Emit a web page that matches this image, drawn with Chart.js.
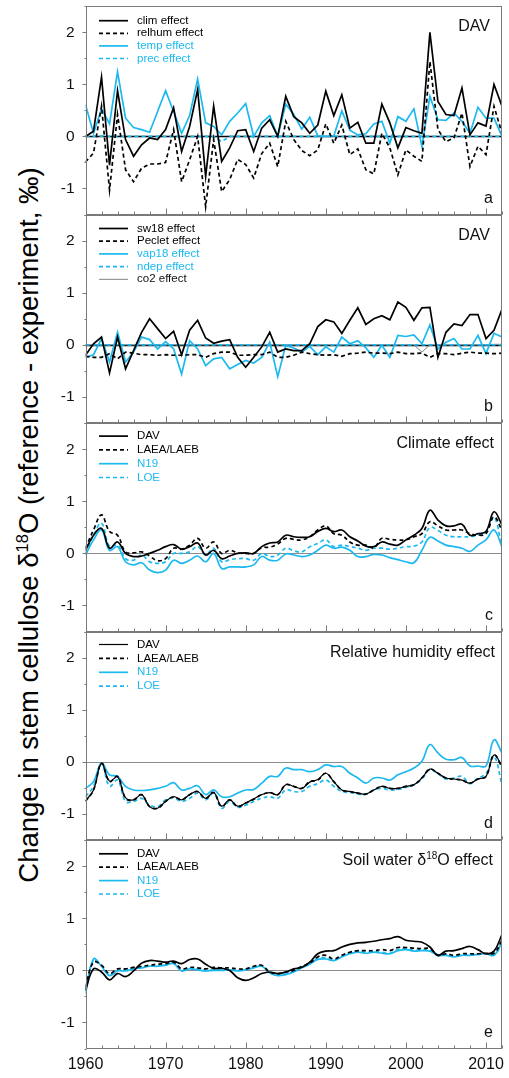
<!DOCTYPE html>
<html>
<head>
  <meta charset="utf-8">
  <title>Stem cellulose d18O effects</title>
  <style>
    body {
      margin: 0;
      background: #fff;
      font-family: "Liberation Sans", Arial, sans-serif;
    }
    .wrap {
      position: relative;
      width: 509px;
      height: 1078px;
      overflow: hidden;
    }
    canvas {
      position: absolute;
      left: 0;
    }
    #ylabel {
      position: absolute;
      left: 29px;
      top: 525px;
      transform: translate(-50%, -50%) rotate(-90deg);
      white-space: nowrap;
      font-size: 27.5px;
      line-height: 1;
      color: #000;
    }
    #ylabel sup {
      font-size: 0.6em;
      vertical-align: 0.6em;
      line-height: 0;
    }
  </style>
  <script src="https://cdn.jsdelivr.net/npm/chart.js"></script>
</head>
<body>
  <div class="wrap" id="wrap">
    <div id="ylabel">Change in stem cellulose &delta;<sup>18</sup>O (reference - experiment, &permil;)</div>
  </div>

  <script>
    // years 1960..2012
    var years = [1960, 1961, 1962, 1963, 1964, 1965, 1966, 1967, 1968, 1969,
                 1970, 1971, 1972, 1973, 1974, 1975, 1976, 1977, 1978, 1979,
                 1980, 1981, 1982, 1983, 1984, 1985, 1986, 1987, 1988, 1989,
                 1990, 1991, 1992, 1993, 1994, 1995, 1996, 1997, 1998, 1999,
                 2000, 2001, 2002, 2003, 2004, 2005, 2006, 2007, 2008, 2009,
                 2010, 2011, 2012];

    // panel a - DAV climate drivers
    var climA = [0.0, 0.1, 1.14, -0.55, 0.88, -0.06, -0.38, -0.16, -0.03, -0.06,
                 0.13, 0.55, -0.29, 0.19, 0.9, -0.77, 0.58, -0.48, -0.22, 0.11,
                 0.13, -0.29, 0.16, 0.32, 0.0, 0.77, 0.38, 0.26, 0.06, 0.22,
                 0.87, 0.4, 0.8, 0.16, 0.27, -0.13, -0.13, 0.62, 0.26, -0.22,
                 0.17, 0.11, 0.06, 2.0, 0.67, 0.42, 0.4, 0.93, 0.03, 0.26,
                 0.2, 1.0, 0.58];
    var relhumA = [-0.49, -0.32, 0.58, -1.03, 0.42, -0.64, -0.87, -0.61, -0.53, -0.53,
                   -0.5, 0.13, -0.87, -0.45, 0.0, -1.35, -0.06, -1.06, -0.83, -0.44,
                   -0.54, -0.8, -0.33, -0.13, -0.58, 0.29, -0.06, -0.27, -0.37, -0.26,
                   0.24, -0.13, 0.22, -0.35, -0.24, -0.64, -0.72, 0.06, -0.22, -0.74,
                   -0.26, -0.38, -0.48, 1.44, 0.13, -0.1, -0.03, 0.45, -0.58, -0.19,
                   -0.35, 0.58, 0.06];
    var tempA = [0.61, 0.06, 0.53, 0.24, 1.24, 0.35, 0.17, 0.13, 0.08, 0.48,
                 0.88, 0.48, 0.06, 0.4, 1.1, 0.26, 0.19, 0.03, 0.29, 0.45,
                 0.63, 0.0, 0.26, 0.4, 0.0, 0.62, 0.42, 0.14, 0.37, 0.01,
                 0.0, 0.01, 0.49, 0.12, 0.03, 0.05, 0.24, 0.29, -0.13, 0.38,
                 0.29, 0.53, -0.19, 0.77, 0.32, 0.31, 0.45, 0.29, 0.06, 0.56,
                 0.35, 0.35, 0.0];
    var precA = [0.0, 0.0, 0.01, 0.0, 0.0, 0.0, 0.0, 0.0, 0.0, 0.0,
                 0.0, 0.0, 0.0, 0.0, 0.0, 0.0, 0.0, -0.1, 0.0, 0.0,
                 0.0, 0.0, 0.0, 0.0, 0.0, 0.0, 0.0, 0.0, 0.0, 0.0,
                 0.0, 0.0, 0.0, 0.0, 0.0, 0.0, 0.0, 0.0, 0.0, 0.0,
                 0.0, 0.0, 0.0, 0.0, 0.0, 0.0, 0.0, 0.0, 0.0, 0.0,
                 0.0, 0.0, 0.0];

    // panel b - DAV other drivers
    var sw18B = [-0.2, 0.02, 0.15, -0.54, 0.15, -0.46, -0.11, 0.24, 0.5, 0.31,
                 0.12, 0.26, -0.19, 0.28, 0.47, 0.13, 0.03, 0.07, 0.1, -0.24,
                 -0.43, -0.24, -0.04, 0.24, -0.14, -0.08, -0.11, -0.11, 0.02, 0.35,
                 0.48, 0.44, 0.22, 0.47, 0.71, 0.39, 0.5, 0.56, 0.48, 0.82,
                 0.72, 0.47, 0.71, 0.72, -0.24, 0.24, 0.4, 0.37, 0.58, 0.58,
                 0.12, 0.28, 0.68];
    var pecletB = [-0.22, -0.24, -0.24, -0.17, -0.27, -0.14, -0.16, -0.19, -0.19, -0.2,
                   -0.19, -0.2, -0.2, -0.19, -0.19, -0.24, -0.17, -0.14, -0.14, -0.2,
                   -0.2, -0.19, -0.19, -0.14, -0.24, -0.24, -0.2, -0.14, -0.17, -0.19,
                   -0.2, -0.19, -0.22, -0.17, -0.16, -0.14, -0.16, -0.16, -0.17, -0.14,
                   -0.17, -0.17, -0.16, -0.24, -0.17, -0.17, -0.19, -0.16, -0.14, -0.16,
                   -0.16, -0.17, -0.16];
    var vap18B = [-0.24, -0.19, 0.12, -0.33, 0.24, -0.33, -0.14, 0.15, 0.1, -0.08,
                  0.06, -0.08, -0.56, 0.08, -0.08, -0.4, -0.27, -0.24, -0.46, -0.38,
                  -0.3, -0.35, -0.24, 0.05, -0.61, -0.01, -0.06, -0.14, -0.03, -0.19,
                  -0.04, -0.14, 0.15, 0.02, 0.08, -0.06, -0.24, -0.01, -0.24, 0.18,
                  0.16, 0.19, 0.02, 0.38, -0.08, 0.05, 0.12, -0.08, -0.08, 0.18,
                  -0.17, 0.22, 0.15];
    var ndepB = [0.0, 0.0, 0.0, 0.0, 0.0, 0.0, 0.0, 0.0, 0.0, 0.0,
                 0.0, 0.0, 0.0, 0.0, 0.0, 0.0, 0.0, 0.0, 0.0, 0.0,
                 0.0, 0.0, 0.0, 0.0, 0.0, 0.0, 0.0, 0.0, 0.0, 0.0,
                 0.0, 0.0, 0.0, 0.0, 0.0, 0.0, 0.0, 0.0, 0.0, 0.0,
                 0.0, 0.0, 0.0, 0.0, 0.0, 0.0, 0.0, 0.0, 0.0, 0.0,
                 0.0, 0.0, 0.0];
    var co2B = [0.0, 0.0, 0.0, 0.0, 0.0, 0.0, 0.0, 0.0, 0.0, 0.0,
                0.0, 0.0, 0.0, 0.0, 0.0, 0.0, 0.0, 0.0, 0.0, 0.0,
                0.0, 0.0, 0.0, 0.0, 0.0, 0.0, 0.0, 0.0, 0.0, 0.0,
                0.0, 0.0, 0.0, 0.0, 0.0, 0.0, 0.0, 0.0, 0.0, 0.0,
                0.0, 0.0, -0.14, 0.0, 0.0, 0.0, 0.0, 0.0, 0.0, 0.0,
                0.0, 0.01, 0.01];

    // panel c - climate effect per site
    var davC = [0.06, 0.35, 0.48, 0.1, 0.22, 0.0, -0.06, -0.05, 0.0, 0.06,
                0.13, 0.17, 0.08, 0.13, 0.2, -0.03, 0.06, -0.1, -0.05, 0.0,
                0.01, 0.0, 0.13, 0.2, 0.22, 0.35, 0.32, 0.31, 0.32, 0.42,
                0.48, 0.42, 0.45, 0.32, 0.24, 0.14, 0.13, 0.22, 0.18, 0.16,
                0.26, 0.35, 0.48, 0.83, 0.64, 0.53, 0.53, 0.56, 0.35, 0.38,
                0.42, 0.8, 0.55];
    var laeaC = [0.1, 0.45, 0.74, 0.42, 0.35, 0.03, 0.01, 0.03, -0.05, -0.14,
                 -0.1, 0.1, 0.08, 0.16, 0.29, 0.1, 0.22, 0.0, 0.06, 0.01,
                 0.0, 0.0, 0.11, 0.12, 0.18, 0.29, 0.27, 0.26, 0.32, 0.45,
                 0.53, 0.38, 0.35, 0.22, 0.16, 0.16, 0.11, 0.29, 0.27, 0.26,
                 0.26, 0.32, 0.38, 0.61, 0.53, 0.45, 0.45, 0.45, 0.38, 0.35,
                 0.38, 0.7, 0.45];
    var n19C = [-0.03, 0.26, 0.45, 0.06, 0.13, -0.16, -0.22, -0.18, -0.32, -0.37,
                -0.32, -0.13, -0.19, -0.13, -0.05, -0.16, 0.0, -0.29, -0.26, -0.26,
                -0.26, -0.22, -0.06, -0.13, -0.13, -0.01, -0.03, -0.06, -0.03, 0.06,
                0.16, 0.1, 0.12, 0.06, -0.06, -0.06, -0.02, -0.03, -0.08, -0.12,
                -0.16, -0.18, 0.06, 0.31, 0.24, 0.16, 0.13, 0.1, 0.04, 0.16,
                0.26, 0.45, 0.13];
    var loeC = [0.0, 0.35, 0.58, 0.13, 0.16, -0.1, -0.13, -0.03, -0.16, -0.19,
                -0.16, 0.0, 0.0, 0.03, 0.13, -0.03, 0.1, -0.16, -0.12, -0.1,
                -0.1, -0.13, 0.0, -0.06, -0.03, 0.1, 0.05, 0.03, 0.13, 0.19,
                0.26, 0.13, 0.16, 0.13, 0.1, 0.06, 0.1, 0.1, 0.08, 0.1,
                0.13, 0.14, 0.22, 0.5, 0.44, 0.35, 0.32, 0.32, 0.32, 0.35,
                0.42, 0.7, 0.1];

    // panel d - relative humidity effect per site
    var davD = [-0.75, -0.54, -0.03, -0.37, -0.29, -0.69, -0.73, -0.63, -0.86, -0.89,
                -0.76, -0.67, -0.73, -0.63, -0.57, -0.7, -0.59, -0.85, -0.73, -0.85,
                -0.79, -0.71, -0.63, -0.59, -0.63, -0.44, -0.47, -0.51, -0.39, -0.34,
                -0.22, -0.38, -0.54, -0.57, -0.6, -0.62, -0.54, -0.47, -0.51, -0.51,
                -0.47, -0.44, -0.31, -0.14, -0.22, -0.31, -0.33, -0.35, -0.41, -0.33,
                -0.28, 0.13, -0.08];
    var laeaD = [-0.76, -0.54, -0.03, -0.38, -0.28, -0.7, -0.73, -0.63, -0.86, -0.89,
                 -0.76, -0.67, -0.73, -0.63, -0.57, -0.7, -0.59, -0.86, -0.73, -0.86,
                 -0.79, -0.72, -0.63, -0.59, -0.63, -0.44, -0.47, -0.51, -0.38, -0.35,
                 -0.22, -0.38, -0.54, -0.57, -0.6, -0.62, -0.54, -0.47, -0.51, -0.51,
                 -0.47, -0.44, -0.31, -0.14, -0.22, -0.31, -0.33, -0.35, -0.41, -0.33,
                 -0.28, 0.13, -0.1];
    var n19D = [-0.51, -0.38, -0.03, -0.25, -0.28, -0.47, -0.54, -0.55, -0.54, -0.51,
                -0.47, -0.4, -0.54, -0.51, -0.46, -0.63, -0.54, -0.67, -0.67, -0.6,
                -0.54, -0.53, -0.41, -0.28, -0.28, -0.12, -0.15, -0.15, -0.19, -0.15,
                -0.06, -0.09, -0.09, -0.22, -0.31, -0.41, -0.31, -0.31, -0.35, -0.25,
                -0.19, -0.12, 0.01, 0.33, 0.17, 0.05, 0.04, 0.08, -0.08, -0.08,
                -0.08, 0.42, 0.17];
    var loeD = [-0.67, -0.47, -0.03, -0.47, -0.35, -0.76, -0.76, -0.7, -0.83, -0.86,
                -0.73, -0.7, -0.76, -0.7, -0.6, -0.73, -0.6, -0.89, -0.76, -0.87,
                -0.83, -0.76, -0.7, -0.67, -0.7, -0.54, -0.57, -0.57, -0.47, -0.42,
                -0.35, -0.47, -0.57, -0.59, -0.62, -0.62, -0.54, -0.51, -0.54, -0.53,
                -0.49, -0.44, -0.33, -0.15, -0.23, -0.33, -0.31, -0.28, -0.42, -0.31,
                -0.23, 0.1, -0.44];

    // panel e - soil water d18O effect per site
    var davE = [-0.38, 0.03, -0.03, -0.18, -0.06, -0.12, -0.01, 0.14, 0.19, 0.18,
                0.16, 0.18, 0.13, 0.21, 0.22, 0.12, 0.04, 0.04, 0.0, -0.14,
                -0.19, -0.14, -0.06, -0.03, -0.06, -0.03, 0.03, 0.06, 0.16, 0.32,
                0.37, 0.38, 0.45, 0.5, 0.53, 0.54, 0.56, 0.59, 0.61, 0.65,
                0.58, 0.56, 0.54, 0.45, 0.29, 0.37, 0.38, 0.42, 0.46, 0.4,
                0.32, 0.37, 0.69];
    var laeaE = [-0.32, 0.16, 0.1, -0.06, 0.03, 0.03, 0.06, 0.08, 0.1, 0.12,
                 0.13, 0.16, 0.03, 0.06, 0.05, 0.03, 0.06, 0.05, 0.05, 0.03,
                 0.03, 0.08, 0.1, -0.03, -0.06, -0.03, 0.0, 0.08, 0.14, 0.26,
                 0.29, 0.22, 0.29, 0.35, 0.38, 0.38, 0.38, 0.4, 0.38, 0.44,
                 0.44, 0.43, 0.42, 0.42, 0.29, 0.32, 0.29, 0.32, 0.32, 0.32,
                 0.33, 0.33, 0.58];
    var n19E = [-0.45, 0.22, 0.08, -0.1, -0.01, -0.01, 0.03, 0.05, 0.08, 0.08,
                0.1, 0.13, -0.01, 0.03, 0.01, -0.01, 0.0, 0.0, 0.01, -0.01,
                0.01, 0.05, 0.08, -0.05, -0.1, -0.08, -0.03, 0.05, 0.12, 0.21,
                0.22, 0.19, 0.26, 0.32, 0.35, 0.33, 0.35, 0.33, 0.32, 0.38,
                0.4, 0.37, 0.38, 0.37, 0.29, 0.29, 0.26, 0.29, 0.29, 0.31,
                0.32, 0.29, 0.54];
    var loeE = [-0.4, 0.2, 0.09, -0.08, 0.0, 0.01, 0.04, 0.06, 0.09, 0.1,
                0.11, 0.14, 0.0, 0.04, 0.02, 0.0, 0.01, 0.02, 0.02, 0.0,
                0.02, 0.06, 0.09, -0.04, -0.09, -0.07, -0.02, 0.06, 0.13, 0.23,
                0.24, 0.2, 0.27, 0.34, 0.36, 0.35, 0.36, 0.35, 0.33, 0.4,
                0.42, 0.39, 0.4, 0.39, 0.3, 0.3, 0.27, 0.3, 0.3, 0.31,
                0.32, 0.3, 0.5];

    var CYAN = '#1cb9ef';
    var BLACK = '#000000';
    var FONT = '"Liberation Sans", Arial, sans-serif';

    Chart.defaults.font.family = FONT;
    Chart.defaults.color = '#111';

    function line(label, data, color, dashed, textColor, width) {
      return {
        label: label,
        data: data,
        borderColor: color,
        borderWidth: width || 1.7,
        borderDash: dashed ? [4, 3] : [],
        pointRadius: 0,
        fill: false,
        textColor: textColor || color
      };
    }

    var panels = [
      {
        title: [['DAV', false]], titleRight: 12, letter: 'a', smooth: false,
        zeroColor: '#000', zeroWidth: 1.5, legendStep: 12.6, legendTop: 14.4,
        datasets: [
          line('clim effect', climA, BLACK, false),
          line('relhum effect', relhumA, BLACK, true),
          line('temp effect', tempA, CYAN, false),
          line('prec effect', precA, CYAN, true)
        ]
      },
      {
        title: [['DAV', false]], titleRight: 12, letter: 'b', smooth: false,
        zeroColor: '#000', zeroWidth: 1.5, legendStep: 12.7, legendTop: 14,
        datasets: [
          line('sw18 effect', sw18B, BLACK, false),
          line('Peclet effect', pecletB, BLACK, true),
          line('vap18 effect', vap18B, CYAN, false),
          line('ndep effect', ndepB, CYAN, true),
          line('co2 effect', co2B, '#808080', false, '#111', 1)
        ]
      },
      {
        title: [['Climate effect', false]], titleRight: 8, letter: 'c', smooth: true,
        zeroColor: '#8a8a8a', zeroWidth: 1, legendStep: 13.8, legendTop: 12.8,
        datasets: [
          line('DAV', davC, BLACK, false),
          line('LAEA/LAEB', laeaC, BLACK, true),
          line('N19', n19C, CYAN, false),
          line('LOE', loeC, CYAN, true)
        ]
      },
      {
        title: [['Relative humidity effect', false]], titleRight: 7, letter: 'd', smooth: true,
        zeroColor: '#8a8a8a', zeroWidth: 1, legendStep: 13.9, legendTop: 13,
        datasets: [
          line('DAV', davD, BLACK, false, BLACK, 1.2),
          line('LAEA/LAEB', laeaD, BLACK, true),
          line('N19', n19D, CYAN, false),
          line('LOE', loeD, CYAN, true)
        ]
      },
      {
        title: [['Soil water \u03b4', false], ['18', true], ['O effect', false]], titleRight: 9, letter: 'e', smooth: true,
        zeroColor: '#8a8a8a', zeroWidth: 1, legendStep: 13.4, legendTop: 13.5,
        datasets: [
          line('DAV', davE, BLACK, false),
          line('LAEA/LAEB', laeaE, BLACK, true),
          line('N19', n19E, CYAN, false),
          line('LOE', loeE, CYAN, true)
        ]
      }
    ];

    // frame, ticks, zero line, legend and labels inside each panel
    var decoPlugin = {
      id: 'deco',
      beforeDatasetsDraw: function(chart, args, opts) {
        var ctx = chart.ctx, a = chart.chartArea;
        var y0 = Math.round(chart.scales.y.getPixelForValue(0)) + 0.5;
        ctx.save();
        ctx.strokeStyle = opts.zeroColor;
        ctx.lineWidth = opts.zeroWidth;
        ctx.beginPath();
        ctx.moveTo(a.left, y0);
        ctx.lineTo(a.right, y0);
        ctx.stroke();
        ctx.restore();
      },
      afterDraw: function(chart, args, opts) {
        var ctx = chart.ctx, a = chart.chartArea;
        var xs = chart.scales.x, ys = chart.scales.y;
        var L = Math.round(a.left) + 0.5, R = Math.round(a.right) - 0.5;
        var T = Math.round(a.top) + 0.5, B = Math.round(a.bottom) - 0.5;
        ctx.save();
        ctx.strokeStyle = '#7a7a7a';
        ctx.lineWidth = 1;
        ctx.strokeRect(L, T, R - L, B - T);

        ctx.beginPath();
        for (var yr = 1960; yr <= 2012; yr += 2) {
          var px = Math.round(xs.getPixelForValue(yr)) + 0.5;
          var len = yr % 10 === 0 ? 6 : 3;
          ctx.moveTo(px, B);
          ctx.lineTo(px, B - len);
        }
        for (var v = -1.5; v <= 2.5; v += 0.5) {
          var py = Math.round(ys.getPixelForValue(v)) + 0.5;
          var tl = Number.isInteger(v) ? 4 : 2;
          ctx.moveTo(L, py);
          ctx.lineTo(L - tl, py);
        }
        ctx.stroke();

        // legend
        var ry = a.top + opts.legendTop;
        ctx.font = '11.5px ' + FONT;
        ctx.textBaseline = 'middle';
        ctx.textAlign = 'left';
        chart.data.datasets.forEach(function(ds) {
          ctx.strokeStyle = ds.borderColor;
          ctx.lineWidth = ds.borderWidth;
          ctx.setLineDash(ds.borderDash);
          ctx.beginPath();
          ctx.moveTo(99, ry);
          ctx.lineTo(128, ry);
          ctx.stroke();
          ctx.setLineDash([]);
          ctx.fillStyle = ds.textColor;
          ctx.fillText(ds.label, 137, ry);
          ry += opts.legendStep;
        });

        // panel title, right aligned
        ctx.textBaseline = 'alphabetic';
        ctx.fillStyle = '#111';
        var big = '16px ' + FONT, small = '10px ' + FONT;
        var total = 0;
        opts.title.forEach(function(p) {
          ctx.font = p[1] ? small : big;
          total += ctx.measureText(p[0]).width;
        });
        var tx = a.right - opts.titleRight - total, tyb = a.top + 25;
        opts.title.forEach(function(p) {
          ctx.font = p[1] ? small : big;
          ctx.fillText(p[0], tx, p[1] ? tyb - 6 : tyb);
          tx += ctx.measureText(p[0]).width;
        });

        // panel letter
        ctx.font = big;
        ctx.textAlign = 'right';
        ctx.fillText(opts.letter, a.right - 9, a.bottom - 12);
        ctx.restore();
      }
    };

    var LEFT = 85.5, RIGHT_PAD = 7, PANEL_H = 208.5;
    var wrap = document.getElementById('wrap');

    panels.forEach(function(p, i) {
      var top = 6 + i * PANEL_H;
      var last = i === panels.length - 1;
      var cTop = Math.floor(top) - 20;
      var cH = last ? 262 : 250;
      var xH = last ? 30 : 0;
      var padTop = top - cTop;
      var padBottom = cH - padTop - PANEL_H - xH;

      var canvas = document.createElement('canvas');
      canvas.width = 509;
      canvas.height = cH;
      canvas.style.top = cTop + 'px';
      wrap.appendChild(canvas);

      p.datasets.forEach(function(ds) { ds.tension = p.smooth ? 0.4 : 0; });

      new Chart(canvas.getContext('2d'), {
        type: 'line',
        data: { labels: years, datasets: p.datasets },
        options: {
          responsive: false,
          animation: false,
          events: [],
          layout: { padding: { top: padTop, bottom: padBottom, left: 0, right: RIGHT_PAD } },
          plugins: {
            legend: { display: false },
            tooltip: { enabled: false },
            deco: {
              title: p.title, titleRight: p.titleRight, letter: p.letter,
              zeroColor: p.zeroColor, zeroWidth: p.zeroWidth,
              legendStep: p.legendStep, legendTop: p.legendTop
            }
          },
          scales: {
            x: {
              type: 'linear',
              min: 1960,
              max: 2012,
              grid: { display: false, drawTicks: false },
              border: { display: false },
              ticks: {
                display: last,
                stepSize: 2,
                autoSkip: false,
                maxRotation: 0,
                padding: 6,
                color: '#111',
                font: { size: 16 },
                callback: function(v) { return v % 10 === 0 ? String(v) : ''; }
              },
              afterFit: function(s) { s.height = xH; }
            },
            y: {
              min: -1.5,
              max: 2.5,
              grid: { display: false, drawTicks: false },
              border: { display: false },
              ticks: {
                stepSize: 0.5,
                autoSkip: false,
                padding: 11,
                color: '#111',
                font: { size: 15.5 },
                callback: function(v) { return Number.isInteger(v) ? String(v) : ''; }
              },
              afterFit: function(s) { s.width = LEFT; }
            }
          }
        },
        plugins: [decoPlugin]
      });
    });
  </script>
</body>
</html>
